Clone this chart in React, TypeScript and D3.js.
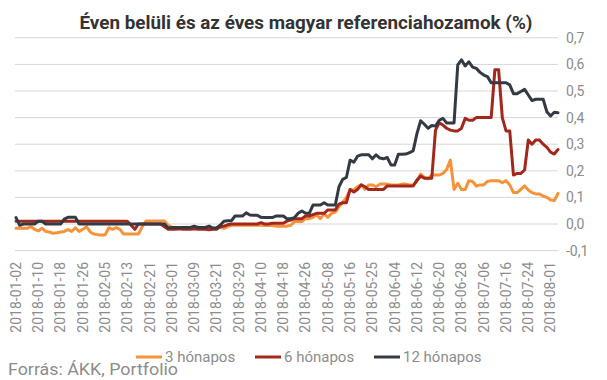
import React from 'react';
import * as d3 from 'd3';

const tickLabels = [
  '2018-01-02', '2018-01-10', '2018-01-18', '2018-01-26', '2018-02-05', '2018-02-13',
  '2018-02-21', '2018-03-01', '2018-03-09', '2018-03-21', '2018-03-29', '2018-04-10',
  '2018-04-18', '2018-04-26', '2018-05-08', '2018-05-16', '2018-05-25', '2018-06-04',
  '2018-06-12', '2018-06-20', '2018-06-28', '2018-07-06', '2018-07-16', '2018-07-24',
  '2018-08-01',
];
const tickStep = 6;

const m3 = [
  -0.016, -0.016, -0.016, -0.016, -0.01, -0.02, -0.026, -0.016, -0.028, -0.03,
  -0.035, -0.033, -0.03, -0.028, -0.021, -0.028, -0.014, -0.028, -0.02, -0.01,
  -0.03, -0.038, -0.04, -0.041, -0.041, -0.014, -0.02, -0.014, -0.02, -0.038,
  -0.038, -0.038, -0.038, -0.038, -0.01, 0.011, 0.011, 0.011, 0.011, 0.011,
  0.011, -0.005, -0.012, -0.015, -0.015, -0.015, -0.012, -0.015, -0.015, -0.012,
  -0.015, -0.015, -0.016, -0.016, -0.015, -0.012, -0.016, -0.01, -0.005, -0.005,
  -0.005, -0.005, -0.005, -0.005, -0.005, -0.005, -0.005, -0.006, -0.006, -0.006,
  -0.008, -0.008, -0.008, -0.008, -0.005, 0.009, 0.009, 0.009, 0.02, 0.02,
  0.025, 0.034, 0.02, 0.038, 0.025, 0.04, 0.045, 0.065, 0.08, 0.1,
  0.128, 0.128, 0.14, 0.147, 0.13, 0.147, 0.147, 0.14, 0.15, 0.15,
  0.15, 0.147, 0.147, 0.147, 0.15, 0.15, 0.147, 0.147, 0.16, 0.188,
  0.175, 0.17, 0.184, 0.184, 0.184, 0.19, 0.205, 0.24, 0.13, 0.153,
  0.13, 0.13, 0.163, 0.16, 0.143, 0.147, 0.147, 0.16, 0.163, 0.163,
  0.163, 0.155, 0.163, 0.147, 0.118, 0.118, 0.13, 0.143, 0.128, 0.118,
  0.113, 0.113, 0.105, 0.1, 0.09, 0.088, 0.115,
];

const m6 = [
  0.01, 0.01, 0.01, 0.01, 0.01, 0.01, 0.01, 0.01, 0.01, 0.01,
  0.01, 0.01, 0.01, 0.01, 0.01, 0.01, 0.01, 0.01, 0.01, 0.01,
  0.01, 0.01, 0.01, 0.01, 0.01, 0.01, 0.01, 0.01, 0.01, 0.01,
  0.01, -0.005, -0.02, 0, 0, 0, 0, 0, 0, 0,
  -0.01, -0.02, -0.02, -0.02, -0.018, -0.02, -0.02, -0.02, -0.018, -0.02,
  -0.02, -0.02, -0.022, -0.02, -0.02, -0.01, -0.008, -0.003, 0, 0,
  0, 0, 0, 0, 0, 0, 0.005, 0, 0, 0.003,
  0.003, 0.003, 0.003, 0.011, 0.015, 0.02, 0.02, 0.02, 0.03, 0.03,
  0.035, 0.04, 0.04, 0.04, 0.053, 0.053, 0.053, 0.075, 0.08, 0.08,
  0.13, 0.12, 0.13, 0.147, 0.14, 0.13, 0.13, 0.13, 0.13, 0.13,
  0.143, 0.143, 0.143, 0.143, 0.143, 0.143, 0.143, 0.143, 0.165, 0.18,
  0.172, 0.172, 0.172, 0.353, 0.38, 0.372, 0.36, 0.353, 0.35, 0.35,
  0.36, 0.397, 0.39, 0.39, 0.4, 0.4, 0.4, 0.4, 0.4, 0.58,
  0.58, 0.4, 0.35, 0.35, 0.184, 0.19, 0.19, 0.203, 0.316, 0.3,
  0.316, 0.316, 0.3, 0.288, 0.27, 0.263, 0.28,
];

const m12 = [
  0.024, -0.005, 0, 0, 0, 0, 0.01, 0.01, 0, 0,
  0, 0, 0, 0.018, 0.025, 0.025, 0.025, 0, 0, 0,
  0, 0, 0, 0, 0, 0, 0, 0, 0, 0,
  0, 0, 0, 0, 0, 0, 0, 0, 0, 0,
  0, -0.015, -0.013, -0.013, -0.013, -0.013, -0.013, -0.013, -0.008, -0.013,
  -0.013, -0.013, -0.008, -0.015, -0.015, -0.005, 0.01, 0.012, 0.012, 0.03,
  0.03, 0.03, 0.042, 0.034, 0.033, 0.033, 0.025, 0.024, 0.024, 0.024,
  0.03, 0.03, 0.03, 0.02, 0.02, 0.024, 0.04, 0.049, 0.04, 0.04,
  0.071, 0.071, 0.071, 0.08, 0.071, 0.071, 0.071, 0.14, 0.168, 0.175,
  0.24, 0.232, 0.255, 0.26, 0.26, 0.26, 0.245, 0.26, 0.248, 0.245,
  0.25, 0.222, 0.222, 0.262, 0.262, 0.263, 0.268, 0.276, 0.34, 0.388,
  0.375, 0.36, 0.37, 0.368, 0.39, 0.397, 0.38, 0.38, 0.38, 0.598,
  0.617, 0.594, 0.61, 0.59, 0.585, 0.57, 0.56, 0.554, 0.531, 0.531,
  0.531, 0.531, 0.531, 0.523, 0.49, 0.49, 0.498, 0.506, 0.485, 0.464,
  0.469, 0.469, 0.469, 0.422, 0.406, 0.42, 0.418,
];

const yTicks = [-0.1, 0, 0.1, 0.2, 0.3, 0.4, 0.5, 0.6, 0.7];

const seriesNames = ['3 hónapos', '6 hónapos', '12 hónapos'];
const seriesColors = ['#F7923A', '#A3281B', '#343A44'];
const seriesData = [m3, m6, m12];

const title = 'Éven belüli és az éves magyar referenciahozamok (%)';
const source = 'Forrás: ÁKK, Portfolio';

export default function App() {
  const W = 607;
  const H = 380;
  const n = m3.length;
  const x = d3.scaleLinear().domain([0, n - 1]).range([16, 558]);
  const y = d3.scaleLinear().domain([-0.1, 0.7]).range([250.6, 37.8]);
  const line = d3
    .line<number>()
    .x((_, i) => x(i))
    .y((d) => y(d));
  const font = 'Roboto, "Noto Sans", sans-serif';
  const gray = '#8c8c8c';
  const legendPos = [
    { lx: 136, tx: 165 },
    { lx: 255, tx: 284 },
    { lx: 374, tx: 403 },
  ];

  return (
    <svg
      width={W}
      height={H}
      style={{ position: 'absolute', left: 0, top: 0, background: '#fff' }}
      fontFamily={font}
    >
      <text
        x={306}
        y={29}
        textAnchor="middle"
        fontSize={19}
        fontWeight={700}
        fill="#333"
        textLength={453}
        lengthAdjust="spacingAndGlyphs"
      >
        {title}
      </text>
      {yTicks.map((t) => (
        <g key={t}>
          <line x1={15} x2={558} y1={y(t)} y2={y(t)} stroke="#d6d6d6" strokeWidth={1} />
          <text x={566} y={y(t)} dy="0.35em" fontSize={14} fill={gray}>
            {t.toFixed(1).replace('.', ',')}
          </text>
        </g>
      ))}
      {tickLabels.map((lab, k) => (
        <text
          key={lab}
          transform={`translate(${x(k * tickStep)},262) rotate(-90)`}
          textAnchor="end"
          dy="0.35em"
          fontSize={14}
          fill={gray}
        >
          {lab}
        </text>
      ))}
      {seriesData.map((s, k) => (
        <path
          key={k}
          d={line(s) || ''}
          fill="none"
          stroke={seriesColors[k]}
          strokeWidth={3}
          strokeLinejoin="round"
          strokeLinecap="round"
        />
      ))}
      {seriesNames.map((name, k) => (
        <g key={name}>
          <line
            x1={legendPos[k].lx}
            x2={legendPos[k].lx + 26}
            y1={357}
            y2={357}
            stroke={seriesColors[k]}
            strokeWidth={3}
          />
          <text x={legendPos[k].tx} y={357} dy="0.35em" fontSize={15} fill={gray}>
            {name}
          </text>
        </g>
      ))}
      <text x={8} y={375} fontSize={16} fill={gray} textLength={170} lengthAdjust="spacingAndGlyphs">
        {source}
      </text>
    </svg>
  );
}
